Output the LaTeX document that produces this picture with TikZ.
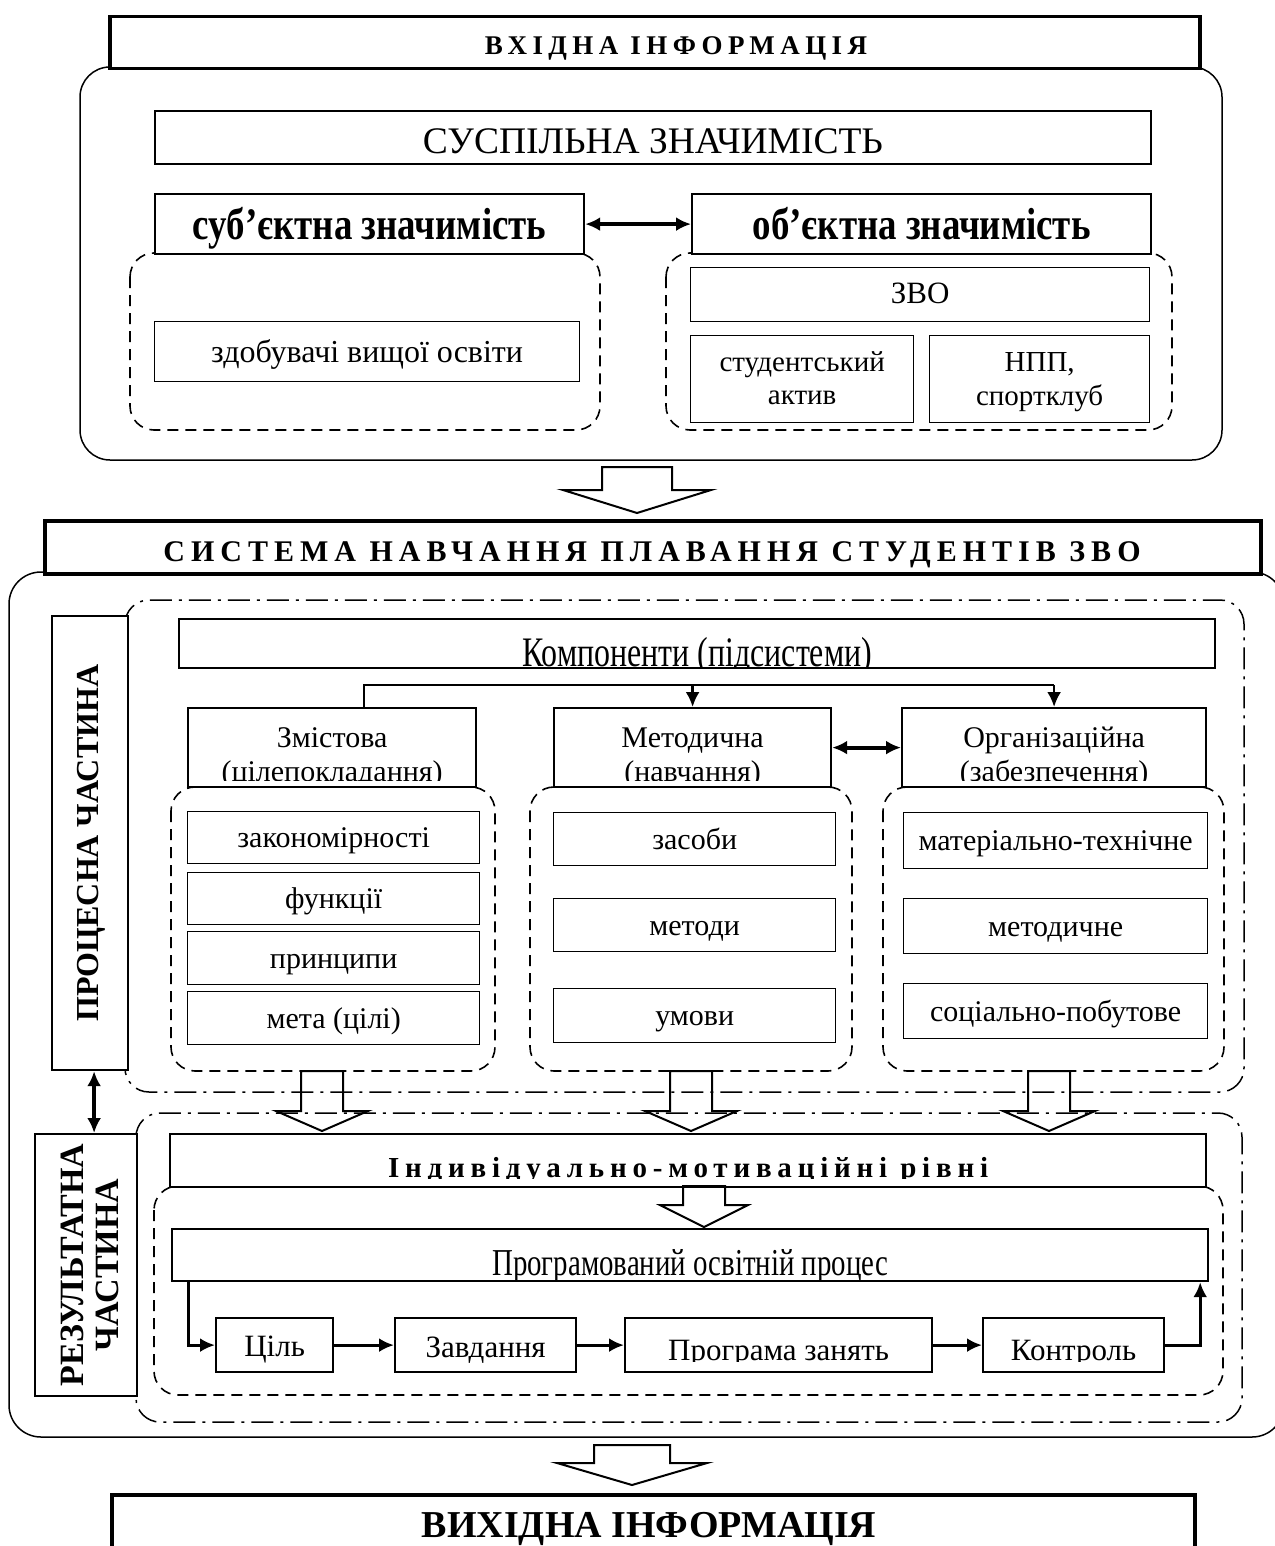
\documentclass[tikz,border=0pt]{standalone}
\usepackage{fontspec}
\setmainfont{Liberation Serif}
\newfontfamily\spacedfont[LetterSpace=20]{Liberation Serif}
\newfontfamily\narrowfont[FakeStretch=0.76]{Liberation Serif}
\newfontfamily\condfont[FakeStretch=0.82]{Liberation Serif}
\usetikzlibrary{arrows.meta}

\tikzset{
  pics/blockdown/.style args={#1/#2/#3/#4}{code={
    \draw[line width=2pt, line join=miter] (-#1,0) -- (-#1,#3) -- (-#2,#3)
      -- (0,#3+#4) -- (#2,#3) -- (#1,#3) -- (#1,0) -- cycle;}}
}

% text of a box that is cut off near its lower edge
\newcommand{\cutlabel}[6]{%
  \begin{scope}
    \clip (#1.north west) rectangle ([yshift=#2]#1.south east);
    \node[txt, #4] (#5) at ([yshift=#3]#1.south) {#6};
  \end{scope}}

\begin{document}
\begin{tikzpicture}[x=1pt, y=-1pt,
  every path/.style={>={Latex[length=15pt,width=14pt]}},
  box/.style={draw, fill=white, line width=1.3pt, inner sep=0pt, anchor=north west,
    align=center, text height=20pt, text depth=0pt, font=\fontsize{30}{34}\selectfont},
  headbox/.style={box, line width=2.2pt},
  titlebox/.style={box, line width=3.5pt},
  txt/.style={inner sep=0pt, anchor=base, font=\fontsize{30}{34}\selectfont},
  roundframe/.style={line width=1.5pt, rounded corners=30pt},
  dashbox/.style={line width=1.6pt, dash pattern=on 11pt off 7pt, rounded corners=24pt},
  dotbox/.style={line width=1.5pt, dash pattern=on 22pt off 7pt on 3pt off 7pt, rounded corners=24pt},
  link/.style={->, line width=3pt},
  twoway/.style={<->, line width=4pt}]

\useasboundingbox (0,0) rectangle (1274,1546);

% input information
\draw[roundframe] (80,67) rectangle (1222,460);
\draw[dashbox] (130,253) rectangle (600,430);
\draw[dashbox] (666,253) rectangle (1172,430);
\node[titlebox, minimum width=1090, minimum height=52] (vhid) at (108,15) {};
\node[txt, font=\spacedfont\bfseries\fontsize{27}{30}\selectfont] (vhidlabel) at (676,55) {ВХІДНА ІНФОРМАЦІЯ};
\node[box, line width=2pt, minimum width=996, minimum height=53, text height=33pt, font=\fontsize{37.5}{42}\selectfont] (susp) at (154,110) {СУСПІЛЬНА ЗНАЧИМІСТЬ};
\node[headbox, minimum width=429, minimum height=60, text height=30pt, font=\condfont\bfseries\fontsize{45}{48}\selectfont] (subj) at (154,193) {суб’єктна значимість};
\node[headbox, minimum width=459, minimum height=60, text height=30pt, font=\condfont\bfseries\fontsize{45}{48}\selectfont] (obj) at (691,193) {об’єктна значимість};
\node[box, minimum width=425, minimum height=60, text height=22pt, font=\fontsize{32}{36}\selectfont] (zdob) at (154,321) {здобувачі вищої освіти};
\node[box, minimum width=459, minimum height=54, text height=18pt, font=\fontsize{31}{35}\selectfont] (zvo) at (690,267) {ЗВО};
\node[box, minimum width=223, minimum height=87] (stud) at (690,335) {};
\node[box, minimum width=220, minimum height=87] (npp) at (929,335) {};
\node[txt, font=\fontsize{29}{33}\selectfont] (stud1) at ([yshift=52pt]stud.south) {студентський};
\node[txt, font=\fontsize{29}{33}\selectfont] (stud2) at ([yshift=19pt]stud.south) {актив};
\node[txt, font=\fontsize{29}{33}\selectfont] (npp1) at ([yshift=52pt]npp.south) {НПП,};
\node[txt, font=\fontsize{29}{33}\selectfont] (npp2) at ([yshift=18pt]npp.south) {спортклуб};
\draw[twoway] (subj) -- (obj);
\pic at (637,467) {blockdown=35/74/23/23};

% system of teaching
\draw[roundframe, rounded corners=32pt] (9,572) rectangle (1284,1437);
\draw[dotbox] (125,600) rectangle (1244,1092);
\draw[dotbox] (136,1113) rectangle (1242,1422);
\draw[dashbox] (171,787) rectangle (495,1071);
\draw[dashbox] (530,787) rectangle (852,1071);
\draw[dashbox] (883,787) rectangle (1224,1071);
\draw[dashbox] (154,1186) rectangle (1223,1395);
\node[titlebox, minimum width=1216, minimum height=53] (sys) at (43,519) {};
\node[txt, font=\spacedfont\bfseries\fontsize{30}{33}\selectfont] (syslabel) at (652,561) {СИСТЕМА НАВЧАННЯ ПЛАВАННЯ СТУДЕНТІВ ЗВО};

\node[headbox, minimum width=76, minimum height=454] (proc) at (51,615) {};
\node[txt, anchor=center, rotate=90, font=\bfseries\fontsize{32}{36}\selectfont] (proclabel) at ([xshift=1pt]proc.center) {ПРОЦЕСНА ЧАСТИНА};
\node[headbox, minimum width=102, minimum height=262] (rez) at (34,1133) {};
\node[txt, anchor=center, rotate=90, align=center, font=\bfseries\fontsize{34}{35}\selectfont] (rezlabel) at ([xshift=4pt]rez.center) {РЕЗУЛЬТАТНА\\ЧАСТИНА};
\draw[twoway] ([xshift=4pt]proc.south) -- ([xshift=4pt]proc.south |- rez.north);

% components
\node[headbox, minimum width=1036, minimum height=49] (komp) at (178,618) {};
\cutlabel{komp}{2pt}{3pt}{font=\narrowfont\fontsize{42}{46}\selectfont}{komplabel}{Компоненти (підсистеми)}
\node[headbox, minimum width=288, minimum height=79] (zmist) at (187,707) {};
\node[headbox, minimum width=277, minimum height=79] (metod) at (553,707) {};
\node[headbox, minimum width=304, minimum height=79] (org) at (901,707) {};
\node[txt] (zmist1) at ([yshift=41pt]zmist.south) {Змістова};
\node[txt] (metod1) at ([yshift=41pt]metod.south) {Методична};
\node[txt] (org1) at ([yshift=41pt]org.south) {Організаційна};
\cutlabel{zmist}{8pt}{7pt}{}{zmist2}{(цілепокладання)}
\cutlabel{metod}{8pt}{7pt}{}{metod2}{(навчання)}
\cutlabel{org}{8pt}{7pt}{}{org2}{(забезпечення)}
\draw[line width=2.5pt] ([xshift=32pt]zmist.north) |- ([yshift=22pt]org.north);
\draw[link, line width=2.5pt] ([yshift=22pt]metod.north) -- (metod.north);
\draw[link, line width=2.5pt] ([yshift=22pt]org.north) -- (org.north);
\draw[twoway] (metod) -- (org);

\node[box, minimum width=292, minimum height=52] (zakon) at (187,811) {закономірності};
\node[box, minimum width=292, minimum height=52] (funk) at (187,872) {функції};
\node[box, minimum width=292, minimum height=53] (princ) at (187,931) {принципи};
\node[box, minimum width=292, minimum height=53] (meta) at (187,991) {мета (цілі)};
\node[box, minimum width=282, minimum height=53] (zasoby) at (553,812) {засоби};
\node[box, minimum width=282, minimum height=53] (metody) at (553,898) {методи};
\node[box, minimum width=282, minimum height=54] (umovy) at (553,988) {умови};
\node[box, minimum width=304, minimum height=56] (mattech) at (903,812) {матеріально-технічне};
\node[box, minimum width=304, minimum height=55] (metodne) at (903,898) {методичне};
\node[box, minimum width=304, minimum height=55] (socpob) at (903,983) {соціально-побутове};
\foreach \x in {322,691,1049}
  \pic at (\x,1071) {blockdown=21/46/40/20};

% result part
\node[headbox, minimum width=1036, minimum height=53] (indiv) at (169,1133) {};
\cutlabel{indiv}{10pt}{11pt}{font=\spacedfont\bfseries\fontsize{29}{32}\selectfont}{indivlabel}{Індивідуально-мотиваційні рівні}
\pic at (704,1186) {blockdown=21/44/19/22};
\node[headbox, minimum width=1036, minimum height=52] (prog) at (171,1228) {};
\cutlabel{prog}{1.5pt}{7pt}{font=\narrowfont\fontsize{38}{42}\selectfont}{proglabel}{Програмований освітній процес}
\node[headbox, minimum width=117, minimum height=54, text height=22pt, font=\fontsize{31}{35}\selectfont] (cil) at (215,1317) {Ціль};
\node[headbox, minimum width=181, minimum height=54, text height=24pt, font=\fontsize{31}{35}\selectfont] (zavd) at (394,1317) {Завдання};
\node[headbox, minimum width=307, minimum height=54] (zaniat) at (624,1317) {};
\cutlabel{zaniat}{12pt}{13pt}{font=\fontsize{31}{35}\selectfont}{zaniatlabel}{Програма занять}
\node[headbox, minimum width=181, minimum height=54] (kontr) at (982,1317) {};
\cutlabel{kontr}{12pt}{13pt}{font=\fontsize{31}{35}\selectfont}{kontrlabel}{Контроль}
\draw[link] ([xshift=17pt]prog.south west) |- (cil.west);
\draw[link] (cil) -- (zavd);
\draw[link] (zavd) -- (zaniat);
\draw[link] (zaniat) -- (kontr);
\draw[link] (kontr.east) -| ([xshift=-9pt]prog.south east);

% output information
\pic at (632,1445) {blockdown=38/75/18/22};
\node[titlebox, minimum width=1083, minimum height=75] (vyhid) at (110,1493) {};
\node[txt, font=\bfseries\fontsize{38}{42}\selectfont] (vyhidlabel) at (649,1537) {ВИХІДНА ІНФОРМАЦІЯ};
\end{tikzpicture}
\end{document}
